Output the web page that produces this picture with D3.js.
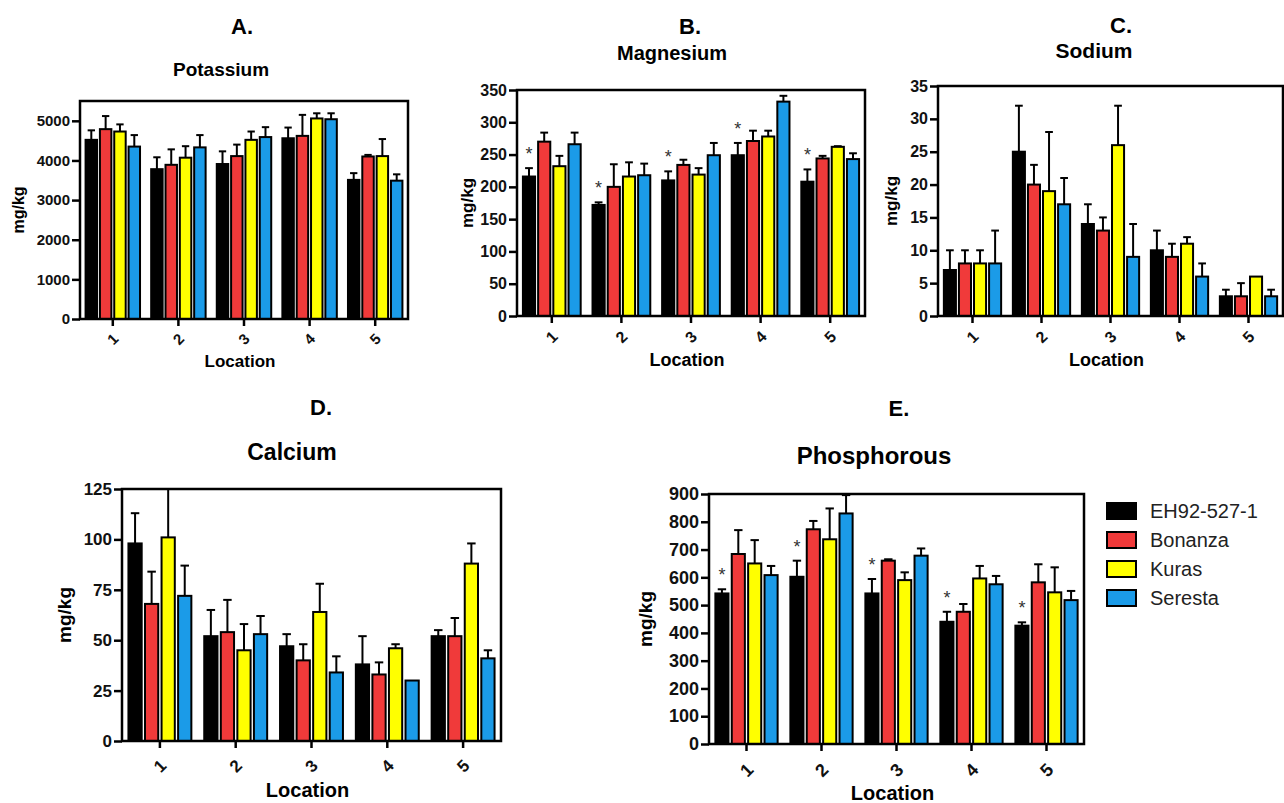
<!DOCTYPE html>
<html>
<head>
<meta charset="utf-8">
<script src="https://cdn.jsdelivr.net/npm/d3@7/dist/d3.min.js"></script>
<style>
  body { margin: 0; background: #fff; }
  svg { display: block; }
  text { font-family: "Liberation Sans", Arial, sans-serif; }
</style>
</head>
<body>
<div id="container"></div>
<script>
const width = 1284;
const height = 803;

const locations = ["1", "2", "3", "4", "5"];
const cultivars = ["EH92-527-1", "Bonanza", "Kuras", "Seresta"];
const colors = ["#000000", "#f03a3a", "#ffff00", "#1b9be8"];

// rows = location 1..5, columns = cultivar (EH92-527-1, Bonanza, Kuras, Seresta)
const potassiumMean = [[4520, 4790, 4730, 4350], [3780, 3890, 4070, 4330], [3910, 4110, 4520, 4590], [4560, 4620, 5060, 5040], [3510, 4100, 4110, 3490]];
const potassiumErr = [[240, 330, 180, 290], [300, 390, 290, 310], [320, 290, 210, 250], [270, 530, 130, 150], [170, 40, 430, 160]];
const potassiumTicks = [0, 1000, 2000, 3000, 4000, 5000];

const magnesiumMean = [[216, 270, 232, 266], [172, 200, 216, 218], [210, 234, 219, 249], [249, 271, 278, 332], [208, 244, 262, 243]];
const magnesiumErr = [[13, 14, 16, 18], [4, 35, 22, 18], [14, 8, 10, 19], [19, 16, 9, 9], [19, 4, 1, 9]];
const magnesiumTicks = [0, 50, 100, 150, 200, 250, 300, 350];

const sodiumMean = [[7, 8, 8, 8], [25, 20, 19, 17], [14, 13, 26, 9], [10, 9, 11, 6], [3, 3, 6, 3]];
const sodiumErr = [[3, 2, 2, 5], [7, 3, 9, 4], [3, 2, 6, 5], [3, 2, 1, 2], [1, 2, 0, 1]];
const sodiumTicks = [0, 5, 10, 15, 20, 25, 30, 35];

const calciumMean = [[98, 68, 101, 72], [52, 54, 45, 53], [47, 40, 64, 34], [38, 33, 46, 30], [52, 52, 88, 41]];
const calciumErr = [[15, 16, 24, 15], [13, 16, 13, 9], [6, 8, 14, 8], [14, 6, 2, 0], [3, 9, 10, 4]];
const calciumTicks = [0, 25, 50, 75, 100, 125];

const phosphorousMean = [[542, 684, 650, 608], [602, 773, 737, 830], [542, 660, 590, 678], [440, 476, 596, 575], [426, 582, 546, 518]];
const phosphorousErr = [[15, 86, 84, 33], [58, 30, 111, 66], [52, 5, 28, 26], [36, 28, 45, 30], [12, 65, 90, 33]];
const phosphorousTicks = [0, 100, 200, 300, 400, 500, 600, 700, 800, 900];

const svg = d3.select("#container").append("svg")
  .attr("width", width)
  .attr("height", height);

// layout of each panel: box = [left, top, right, bottom]
const panels = [
  { letter: "A.", title: "Potassium", mean: potassiumMean, err: potassiumErr, ticks: potassiumTicks, max: 5500, stars: false,
    box: [80, 101, 408, 319], letterXY: [242, 34], titleXY: [221, 76], titleSize: 19, labelSize: 17, tickSize: 15,
    xLabelY: 367, yLabelX: 24, xTickDy: 20 },
  { letter: "B.", title: "Magnesium", mean: magnesiumMean, err: magnesiumErr, ticks: magnesiumTicks, max: 350, stars: true,
    box: [517, 90, 865, 316], letterXY: [690, 34], titleXY: [672, 60], titleSize: 20, labelSize: 18, tickSize: 16,
    xLabelY: 366, yLabelX: 473, xTickDy: 21 },
  { letter: "C.", title: "Sodium", mean: sodiumMean, err: sodiumErr, ticks: sodiumTicks, max: 35, stars: false,
    box: [938, 86, 1283, 316], letterXY: [1121, 33], titleXY: [1094, 58], titleSize: 21, labelSize: 18, tickSize: 16,
    xLabelY: 366, yLabelX: 897, xTickDy: 21 },
  { letter: "D.", title: "Calcium", mean: calciumMean, err: calciumErr, ticks: calciumTicks, max: 125, stars: false,
    box: [122, 489, 501, 741], letterXY: [321, 415], titleXY: [292, 460], titleSize: 23, labelSize: 20, tickSize: 17,
    xLabelY: 797, yLabelX: 71, xTickDy: 25 },
  { letter: "E.", title: "Phosphorous", mean: phosphorousMean, err: phosphorousErr, ticks: phosphorousTicks, max: 900, stars: true,
    box: [709, 494, 1084, 744], letterXY: [899, 416], titleXY: [874, 464], titleSize: 24, labelSize: 20, tickSize: 18,
    xLabelY: 800, yLabelX: 652, xTickDy: 26 }
];

panels.forEach(drawPanel);

function drawPanel(p) {
  const [left, top, right, bottom] = p.box;
  const g = svg.append("g");

  const x0 = d3.scaleBand().domain(locations).range([left, right]).paddingInner(0.17).paddingOuter(0.085);
  const x1 = d3.scaleBand().domain(cultivars).range([0, x0.bandwidth()]).paddingInner(0.2);
  const y = d3.scaleLinear().domain([0, p.max]).range([bottom, top]);

  const rows = [];
  locations.forEach((loc, i) => {
    cultivars.forEach((cv, j) => {
      rows.push({ loc, cv, j, mean: p.mean[i][j], err: p.err[i][j] });
    });
  });

  // bars
  g.selectAll("rect.bar")
    .data(rows)
    .enter()
    .append("rect")
    .attr("class", "bar")
    .attr("x", (d) => x0(d.loc) + x1(d.cv))
    .attr("y", (d) => y(d.mean))
    .attr("width", x1.bandwidth())
    .attr("height", (d) => y(0) - y(d.mean))
    .attr("fill", (d) => colors[d.j])
    .attr("stroke", "#000")
    .attr("stroke-width", 2);

  // error bars (upper only)
  const eb = g.selectAll("g.err")
    .data(rows.filter((d) => d.err > 0))
    .enter()
    .append("g")
    .attr("stroke", "#000")
    .attr("stroke-width", 2);
  const cx = (d) => x0(d.loc) + x1(d.cv) + x1.bandwidth() / 2;
  const cap = x1.bandwidth() * 0.32;
  eb.append("line")
    .attr("x1", cx).attr("x2", cx)
    .attr("y1", (d) => y(d.mean)).attr("y2", (d) => y(d.mean + d.err));
  eb.append("line")
    .attr("x1", (d) => cx(d) - cap).attr("x2", (d) => cx(d) + cap)
    .attr("y1", (d) => y(d.mean + d.err)).attr("y2", (d) => y(d.mean + d.err));

  // significance stars over EH92-527-1
  if (p.stars) {
    g.selectAll("text.star")
      .data(rows.filter((d) => d.j == 0))
      .enter()
      .append("text")
      .attr("x", cx)
      .attr("y", (d) => y(d.mean + d.err) - 8)
      .attr("text-anchor", "middle")
      .attr("font-size", 18)
      .attr("fill", "#333")
      .text("*");
  }

  // frame
  g.append("rect")
    .attr("x", left).attr("y", top)
    .attr("width", right - left).attr("height", bottom - top)
    .attr("fill", "none")
    .attr("stroke", "#000")
    .attr("stroke-width", 2.5);

  // y axis
  const ya = g.append("g")
    .attr("transform", `translate(${left},0)`)
    .call(d3.axisLeft(y).tickValues(p.ticks).tickFormat(d3.format("d")).tickSize(8).tickPadding(2));
  ya.select(".domain").remove();
  ya.selectAll(".tick line").attr("stroke", "#000").attr("stroke-width", 2.5);
  ya.selectAll(".tick text")
    .attr("font-family", null)
    .attr("font-size", p.tickSize)
    .attr("font-weight", "bold")
    .attr("fill", "#111");

  // x axis
  const xa = g.append("g")
    .attr("transform", `translate(0,${bottom})`)
    .call(d3.axisBottom(x0).tickSize(7));
  xa.select(".domain").remove();
  xa.selectAll(".tick line").attr("stroke", "#000").attr("stroke-width", 2.5);
  xa.selectAll(".tick text")
    .attr("font-family", null)
    .attr("font-size", p.tickSize)
    .attr("font-weight", "bold")
    .attr("fill", "#111")
    .attr("y", 0)
    .attr("dy", "0.35em")
    .attr("text-anchor", "middle")
    .attr("transform", `translate(0,${p.xTickDy}) rotate(-45)`);

  // labels
  g.append("text")
    .attr("x", p.letterXY[0]).attr("y", p.letterXY[1])
    .attr("text-anchor", "middle")
    .attr("font-size", 22).attr("font-weight", "bold")
    .text(p.letter);
  g.append("text")
    .attr("x", p.titleXY[0]).attr("y", p.titleXY[1])
    .attr("text-anchor", "middle")
    .attr("font-size", p.titleSize).attr("font-weight", "bold")
    .text(p.title);
  g.append("text")
    .attr("x", (left + right) / 2 - 4).attr("y", p.xLabelY)
    .attr("text-anchor", "middle")
    .attr("font-size", p.labelSize).attr("font-weight", "bold")
    .text("Location");
  g.append("text")
    .attr("transform", `translate(${p.yLabelX},${(top + bottom) / 2}) rotate(-90)`)
    .attr("text-anchor", "middle")
    .attr("font-size", p.labelSize - 1).attr("font-weight", "bold")
    .text("mg/kg");
}

// legend
const legend = svg.append("g")
  .selectAll("g")
  .data(cultivars)
  .enter()
  .append("g")
  .attr("transform", (d, i) => `translate(1107,${511 + i * 29})`);
legend.append("rect")
  .attr("x", 0).attr("y", -8)
  .attr("width", 29).attr("height", 16)
  .attr("fill", (d, i) => colors[i])
  .attr("stroke", "#000")
  .attr("stroke-width", 2);
legend.append("text")
  .attr("x", 43).attr("y", 0)
  .attr("dy", "0.35em")
  .attr("font-size", 20)
  .attr("fill", "#222")
  .text((d) => d);
</script>
</body>
</html>
